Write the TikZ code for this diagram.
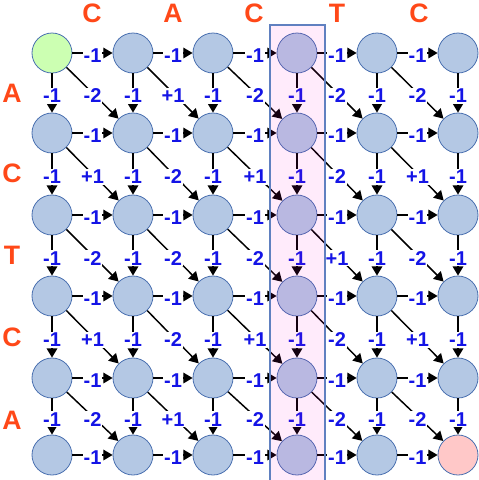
\documentclass[tikz,border=0pt]{standalone}
\usepackage{fontspec}
\setmainfont{Liberation Sans}
\usetikzlibrary{arrows.meta}
\definecolor{nodefill}{RGB}{180,200,228}
\definecolor{nodeborder}{RGB}{74,112,176}
\definecolor{startfill}{RGB}{204,255,178}
\definecolor{endfill}{RGB}{255,200,200}
\definecolor{labblue}{RGB}{20,20,230}
\definecolor{letcol}{RGB}{255,72,24}
\definecolor{hlfill}{RGB}{255,0,200}
\definecolor{hlborder}{RGB}{96,128,192}
\tikzset{
 cell/.style={circle, draw=nodeborder, line width=0.6pt, minimum size=30pt, inner sep=0pt},
 edge/.style={line width=1.1pt, black, -{Triangle[length=7pt,width=8pt]}},
 lab/.style={font=\bfseries\fontsize{15}{17}\selectfont, text=labblue, fill=white, inner sep=0.8pt, yshift=-2pt},
 letter/.style={font=\bfseries\fontsize{20}{24}\selectfont, text=letcol},
 hlbox/.style={draw=hlborder, line width=0.8pt},
}
\def\colx{{52,133,213,297,377,458}}
\def\rowy{{53,133,215,296,378,455}}
\begin{document}
\begin{tikzpicture}[x=0.75pt,y=-0.75pt]
\useasboundingbox (0,0) rectangle (479,480);
% nodes
\foreach \r in {1,...,6}{
  \foreach \c in {1,...,6}{
    \pgfmathsetmacro\xx{\colx[\c-1]}
    \pgfmathsetmacro\yy{\rowy[\r-1]}
    \ifnum\r\c=11 \def\fc{startfill}\else\ifnum\r\c=66 \def\fc{endfill}\else\def\fc{nodefill}\fi\fi
    \node[cell, fill=\fc] (n\r\c) at (\xx,\yy) {};
  }
}
% horizontal edges
\foreach \r in {1,...,6}{
  \foreach \c [evaluate=\c as \d using int(\c+1)] in {1,...,5}{
    \draw[edge] (n\r\c) -- node[lab]{-1} (n\r\d);
  }
}
% vertical edges
\foreach \r [evaluate=\r as \s using int(\r+1)] in {1,...,5}{
  \foreach \c in {1,...,6}{
    \draw[edge] (n\r\c) -- node[lab]{-1} (n\s\c);
  }
}
% diagonal edges
\foreach \r/\scores in {1/{-2,+1,-2,-2,-2},2/{+1,-2,+1,-2,+1},3/{-2,-2,-2,+1,-2},4/{+1,-2,+1,-2,+1},5/{-2,+1,-2,-2,-2}}{
  \pgfmathtruncatemacro\s{\r+1}
  \foreach \v [count=\c, evaluate=\c as \d using int(\c+1)] in \scores{
    \draw[edge] (n\r\c) -- node[lab]{\v} (n\s\d);
  }
}
% highlight column
\fill[hlfill, fill opacity=0.08] (270,25) rectangle (325,490);
\draw[hlbox] (270,25) rectangle (325,490);
% letters
\node[letter] (t1) at (92,13) {C};
\node[letter] (t2) at (173,13) {A};
\node[letter] (t3) at (254,13) {C};
\node[letter] (t4) at (337,13) {T};
\node[letter] (t5) at (419,13) {C};
\node[letter] (l1) at (12,93) {A};
\node[letter] (l2) at (12,173) {C};
\node[letter] (l3) at (12,255) {T};
\node[letter] (l4) at (12,337) {C};
\node[letter] (l5) at (12,420) {A};
\end{tikzpicture}
\end{document}
